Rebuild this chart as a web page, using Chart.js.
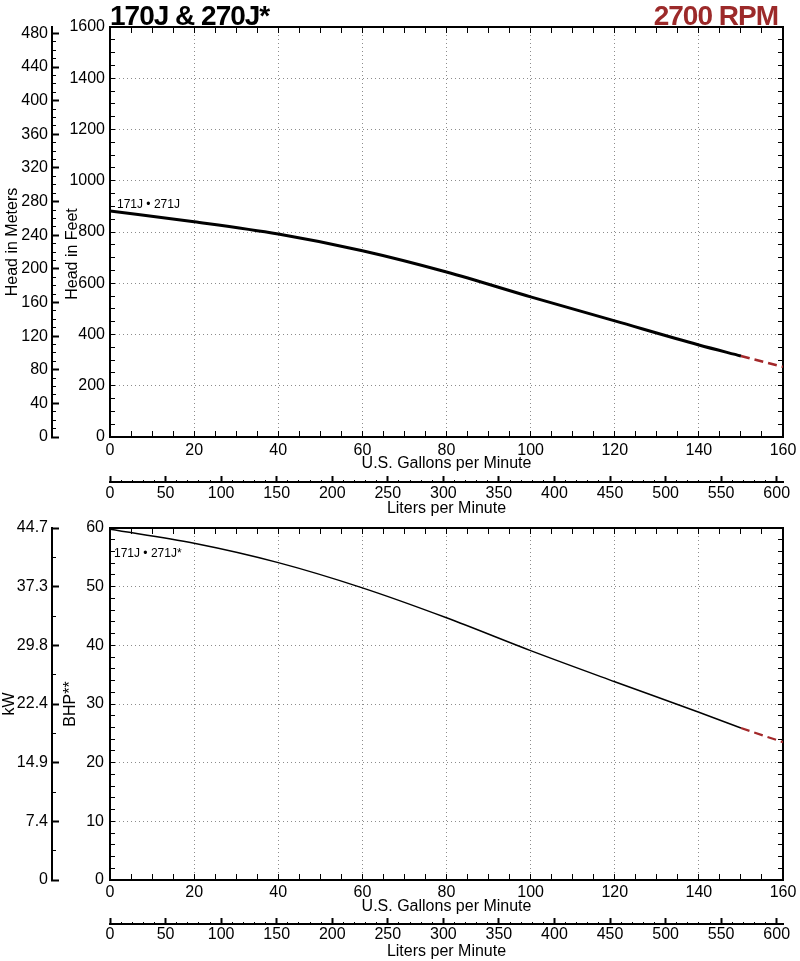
<!DOCTYPE html>
<html>
<head>
<meta charset="utf-8">
<script src="https://cdn.jsdelivr.net/npm/chart.js@4.4.1/dist/chart.umd.min.js"></script>
<style>
html, body { margin: 0; padding: 0; background: #fff; }
#wrap { position: relative; width: 800px; height: 961px; overflow: hidden; font-family: 'Liberation Sans', Arial, Helvetica, sans-serif; }
canvas { position: absolute; left: 0; }
.t { position: absolute; white-space: nowrap; color: #000; }
.big { font-size: 28px; font-weight: bold; line-height: 28px; letter-spacing: -1px; top: 2px; }
.note { font-size: 12px; line-height: 14px; }
.vt { font-size: 16px; line-height: 19px; transform: translate(-50%, -50%) rotate(-90deg); }
</style>
</head>
<body>
<div id="wrap">
  <canvas id="c1" width="800" height="518" style="top:0px;width:800px;height:518px"></canvas>
  <canvas id="c2" width="800" height="461" style="top:500px;width:800px;height:461px"></canvas>
  <div class="t big" style="left:110px;">170J &amp; 270J*</div>
  <div class="t big" style="right:22px;color:#9c2a2a;">2700 RPM</div>
  <div class="t vt" style="left:11px;top:242px;">Head in Meters</div>
  <div class="t vt" style="left:71px;top:254px;">Head in Feet</div>
  <div class="t note" style="left:117px;top:197px;">171J • 271J</div>
  <div class="t note" style="left:114px;top:546px;">171J • 271J*</div>
</div>
<script>
// ---------------- data ----------------
const gpmPts   = [0, 20, 40, 60, 80, 100, 120, 140, 150];
const headFt   = [882, 840, 792, 727, 644, 547, 453, 359, 316];
const gpmExt   = [150, 160];
const headExt  = [316, 274];
const bhpVals  = [59.8, 57.4, 54.1, 49.8, 44.7, 39.1, 33.8, 28.6, 25.9];
const bhpExt   = [25.9, 23.5];

// ---------------- axis labels ----------------
const gpmLabels   = [0, 20, 40, 60, 80, 100, 120, 140, 160];
const feetLabels  = [0, 200, 400, 600, 800, 1000, 1200, 1400, 1600];
const meterLabels = [0, 40, 80, 120, 160, 200, 240, 280, 320, 360, 400, 440, 480];
const literLabels = [0, 50, 100, 150, 200, 250, 300, 350, 400, 450, 500, 550, 600];
const bhpLabels   = [0, 10, 20, 30, 40, 50, 60];
const kwLabels    = ['0', '7.4', '14.9', '22.4', '29.8', '37.3', '44.7'];

const FT_TO_M = 0.3048, GPM_TO_LPM = 3.78541, HP_TO_KW = 0.7457;
const FONT = "'Liberation Sans', Arial, Helvetica, sans-serif";
const GRID = '#8c8c8c';
const RED = '#a3282a';

function steps(min, max, step) {
  const out = [];
  for (let v = min; v <= max + 1e-9; v += step) out.push(Math.round(v * 1000) / 1000);
  return out;
}
const tickVal = ctx => (ctx && ctx.tick) ? ctx.tick.value : null;
const f16 = { family: FONT, size: 16 };
const fLH = lh => ({ family: FONT, size: 16, lineHeight: lh + 'px' });

// main horizontal (gpm) axis
function gpmAxis(labelLH, titlePad, h) {
  return {
    type: 'linear', position: 'bottom', weight: 0, min: 0, max: 160,
    afterBuildTicks: s => { s.ticks = steps(0, 160, 5).map(v => ({ value: v })); },
    afterFit: s => { s.height = h; },
    ticks: { autoSkip: false, maxRotation: 0, padding: 0, font: fLH(labelLH), color: '#000',
             callback: v => gpmLabels.includes(v) ? String(v) : '' },
    grid: { color: ctx => { const v = tickVal(ctx); return (gpmLabels.includes(v) && v !== 0 && v !== 160) ? GRID : 'rgba(0,0,0,0)'; },
            lineWidth: 1, tickLength: -6, tickWidth: 1, tickColor: '#000', tickBorderDash: [] },
    border: { color: '#000', width: 2, dash: [1, 3] },
    title: { display: true, text: 'U.S. Gallons per Minute', font: f16, color: '#000', padding: { top: 0, bottom: titlePad } }
  };
}
function literAxis(labelLH, h) {
  return {
    type: 'linear', position: 'bottom', weight: 1, min: 0, max: 160 * GPM_TO_LPM,
    afterBuildTicks: s => { s.ticks = steps(0, 600, 10).map(v => ({ value: v })); },
    afterFit: s => { s.height = h; },
    ticks: { autoSkip: false, maxRotation: 0, padding: 0, font: fLH(labelLH), color: '#000',
             callback: v => literLabels.includes(v) ? String(v) : '' },
    grid: { drawOnChartArea: false, tickLength: -6, tickColor: '#000',
            tickWidth: ctx => literLabels.includes(tickVal(ctx)) ? 2 : 1,
            tickBorderDash: ctx => literLabels.includes(tickVal(ctx)) ? [] : [3, 100] },
    border: { color: '#000', width: 2 },
    title: { display: true, text: 'Liters per Minute', font: f16, color: '#000', padding: { top: 0, bottom: 0 } }
  };
}
function mirrorX() {
  return {
    type: 'linear', position: 'top', weight: 0, min: 0, max: 160,
    afterBuildTicks: s => { s.ticks = steps(0, 160, 5).map(v => ({ value: v })); },
    afterFit: s => { s.height = 0; },
    ticks: { display: false, autoSkip: false, padding: 0 },
    grid: { drawOnChartArea: false, tickLength: -6, tickWidth: 1, tickColor: '#000', tickBorderDash: [] },
    border: { color: '#000', width: 2 }
  };
}
function mirrorY(max, step) {
  return {
    type: 'linear', position: 'right', min: 0, max: max,
    afterBuildTicks: s => { s.ticks = steps(0, max, step).map(v => ({ value: v })); },
    afterFit: s => { s.width = 0; },
    ticks: { display: false, autoSkip: false, padding: 0 },
    grid: { drawOnChartArea: false, tickLength: -5, tickWidth: 1, tickColor: '#000', tickBorderDash: [] },
    border: { color: '#000', width: 2 }
  };
}

const baseOptions = {
  responsive: false, animation: false, events: [],
  plugins: { legend: { display: false }, tooltip: { enabled: false }, title: { display: false } },
  elements: { point: { radius: 0 } }
};

// ---------------- top chart: head ----------------
new Chart(document.getElementById('c1'), {
  type: 'line',
  data: {
    datasets: [
      { data: gpmPts.map((g, i) => ({ x: g, y: headFt[i] })), borderColor: '#000', borderWidth: 3,
        cubicInterpolationMode: 'monotone', pointRadius: 0, xAxisID: 'x', yAxisID: 'y' },
      { data: gpmExt.map((g, i) => ({ x: g, y: headExt[i] })), borderColor: RED, borderWidth: 2.5,
        borderDash: [9, 5], pointRadius: 0, xAxisID: 'x', yAxisID: 'y' }
    ]
  },
  options: {
    ...baseOptions,
    layout: { padding: { top: 27, right: 17, left: 0, bottom: 0 } },
    scales: {
      x: gpmAxis(40, 8.5, 45),
      lpm: literAxis(36, 36),
      xt: mirrorX(),
      m: {
        type: 'linear', position: 'left', weight: 1, min: 0, max: 1600 * FT_TO_M,
        afterBuildTicks: s => { s.ticks = steps(0, 480, 10).map(v => ({ value: v })); },
        afterFit: s => { s.width = 52; },
        ticks: { autoSkip: false, padding: 11, font: f16, color: '#000',
                 callback: v => meterLabels.includes(v) ? String(v) : '' },
        grid: { drawOnChartArea: false, tickLength: -7, tickColor: '#000',
                tickWidth: ctx => meterLabels.includes(tickVal(ctx)) ? 2 : 1,
                tickBorderDash: ctx => meterLabels.includes(tickVal(ctx)) ? [] : [0, 3, 5, 100] },
        border: { color: '#000', width: 2 },
        title: { display: false, text: 'Head in Meters' }
      },
      y: {
        type: 'linear', position: 'left', weight: 0, min: 0, max: 1600,
        afterBuildTicks: s => { s.ticks = steps(0, 1600, 50).map(v => ({ value: v })); },
        afterFit: s => { s.width = 58; },
        ticks: { autoSkip: false, padding: 10, font: f16, color: '#000',
                 callback: v => feetLabels.includes(v) ? String(v) : '' },
        grid: { color: ctx => { const v = tickVal(ctx); return (feetLabels.includes(v) && v !== 0 && v !== 1600) ? GRID : 'rgba(0,0,0,0)'; },
                lineWidth: 1, tickLength: -5, tickWidth: 1, tickColor: '#000', tickBorderDash: [] },
        border: { color: '#000', width: 2, dash: [1, 3] },
        title: { display: false, text: 'Head in Feet' }
      },
      yr: mirrorY(1600, 50)
    }
  }
});

// ---------------- bottom chart: BHP ----------------
new Chart(document.getElementById('c2'), {
  type: 'line',
  data: {
    datasets: [
      { data: gpmPts.map((g, i) => ({ x: g, y: bhpVals[i] })), borderColor: '#000', borderWidth: 1.5,
        cubicInterpolationMode: 'monotone', pointRadius: 0, xAxisID: 'x', yAxisID: 'y' },
      { data: gpmExt.map((g, i) => ({ x: g, y: bhpExt[i] })), borderColor: RED, borderWidth: 2.2,
        borderDash: [9, 5], pointRadius: 0, xAxisID: 'x', yAxisID: 'y' }
    ]
  },
  options: {
    ...baseOptions,
    layout: { padding: { top: 28, right: 17, left: 0, bottom: 0 } },
    scales: {
      x: gpmAxis(38, 7.7, 44),
      lpm: literAxis(34, 37),
      xt: mirrorX(),
      kw: {
        type: 'linear', position: 'left', weight: 1, min: 0, max: 60 * HP_TO_KW,
        afterBuildTicks: s => { s.ticks = steps(0, 60, 5).map(b => ({ value: b * HP_TO_KW })); },
        afterFit: s => { s.width = 52; },
        ticks: { autoSkip: false, padding: 11, font: f16, color: '#000',
                 callback: (v, i) => (i % 2 === 0) ? kwLabels[i / 2] : '' },
        grid: { drawOnChartArea: false, tickLength: -7, tickColor: '#000',
                tickWidth: ctx => (ctx && ctx.index % 2 === 0) ? 2 : 1,
                tickBorderDash: ctx => (ctx && ctx.index % 2 === 0) ? [] : [0, 3, 5, 100] },
        border: { color: '#000', width: 2 },
        title: { display: true, text: 'kW', font: f16, color: '#000', padding: { top: 0, bottom: 0 } }
      },
      y: {
        type: 'linear', position: 'left', weight: 0, min: 0, max: 60,
        afterBuildTicks: s => { s.ticks = steps(0, 60, 2).map(v => ({ value: v })); },
        afterFit: s => { s.width = 58; },
        ticks: { autoSkip: false, padding: 11, font: f16, color: '#000',
                 callback: v => bhpLabels.includes(v) ? String(v) : '' },
        grid: { color: ctx => { const v = tickVal(ctx); return (bhpLabels.includes(v) && v !== 0 && v !== 60) ? GRID : 'rgba(0,0,0,0)'; },
                lineWidth: 1, tickLength: -5, tickWidth: 1, tickColor: '#000', tickBorderDash: [] },
        border: { color: '#000', width: 2, dash: [1, 3] },
        title: { display: true, text: 'BHP**', font: f16, color: '#000', padding: { top: 9, bottom: 0 } }
      },
      yr: mirrorY(60, 2)
    }
  }
});
</script>
</body>
</html>
